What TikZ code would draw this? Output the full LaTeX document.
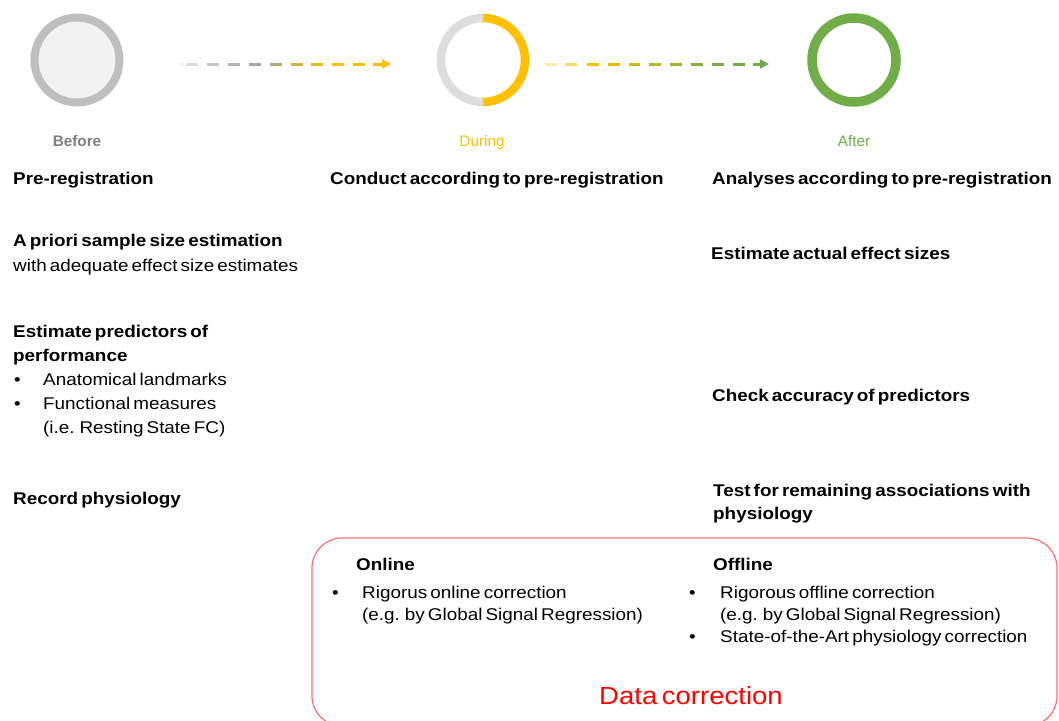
\documentclass[tikz,border=0pt]{standalone}
\usepackage{fontspec}
\setmainfont{Liberation Sans}[FakeStretch=1.11,WordSpace=0.6]
\newfontfamily\plainfont{Liberation Sans}
\usetikzlibrary{arrows.meta}
\definecolor{ringgray}{HTML}{BFBFBF}
\definecolor{fillgray}{HTML}{F2F2F2}
\definecolor{halfgray}{HTML}{DDDDDD}
\definecolor{gold}{HTML}{FFC000}
\definecolor{grn}{HTML}{70AD47}
\definecolor{lbl}{HTML}{7F7F7F}
\definecolor{boxred}{HTML}{FF7070}
\begin{document}
\begin{tikzpicture}[x=1pt,y=-1pt,
  txt/.style={anchor=base west,inner sep=0pt,font=\fontsize{17}{20}\selectfont},
  hd/.style={anchor=base west,inner sep=0pt,font=\fontsize{17}{20}\selectfont\bfseries},
  phase/.style={anchor=base,inner sep=0pt,font=\plainfont\fontsize{15.3}{17}\selectfont},
  dsh/.style={line width=3pt}]
\useasboundingbox (0,0) rectangle (1059,720);
\fill[white] (0,0) rectangle (1059,720);
% circles
\node[circle,draw=ringgray,line width=8pt,fill=fillgray,minimum size=85pt,inner sep=0pt] (before) at (77,60) {};
\node[circle,minimum size=92pt,inner sep=0pt] (during) at (483,60) {};
\draw[halfgray,line width=8.5pt] (483,102) arc[start angle=90,end angle=270,radius=42];
\draw[gold,line width=8.5pt] (483,18) arc[start angle=-90,end angle=90,radius=42];
\node[circle,draw=grn,line width=9.5pt,fill=white,minimum size=84pt,inner sep=0pt] (after) at (854,60) {};
% labels
\node[phase,text=lbl,font=\plainfont\fontsize{15.3}{17}\selectfont\bfseries] (lb) at (77,146.5) {Before};
\node[phase,text=gold] (ld) at (482,146.5) {During};
\node[phase,text=grn] (la) at (854,146.5) {After};
% arrow 1
\foreach \s/\e/\c in {180/184/F0F0F0,186/198/DDDDDD,207/219/C8C8C8,228/240/B4B4B4,249/261/A6A6A6,270/282/B8A870,291/303/D4B440,311/323/ECBC18,332/344/FBBF05,353/365/FFC000}{
  \definecolor{dc}{HTML}{\c}
  \draw[dsh,dc] (\s,64) -- (\e,64);
}
\coordinate (a1s) at (373,64);
\coordinate (a1e) at (391,64);
\draw[dsh,gold,-{Triangle[length=9pt,width=9pt]}] (a1s) -- (a1e);
% arrow 2
\foreach \s/\e/\c in {545/557/FFEBB0,565/577/FFD966,587/599/FFC000,608/620/E9BE00,629/640/D2BB10,649/661/B8B825,670/682/9FB532,691/703/88B03C,712/724/76AE45,733/745/70AD47}{
  \definecolor{dc}{HTML}{\c}
  \draw[dsh,dc] (\s,64) -- (\e,64);
}
\coordinate (a2s) at (753,64);
\coordinate (a2e) at (769,64);
\draw[dsh,grn,-{Triangle[length=9pt,width=9pt]}] (a2s) -- (a2e);
% column 1
\node[hd] (t1) at (13,184) {Pre-registration};
\node[hd] (t2) at (13,246.5) {A priori sample size estimation};
\node[txt] (t3) at (13,271.5) {with adequate effect size estimates};
\node[hd] (t4) at (13,337.5) {Estimate predictors of};
\node[hd] (t5) at (13,361.5) {performance};
\node[txt] (b1) at (14,385.5) {\textbullet};
\node[txt] (t6) at (43,385.5) {Anatomical landmarks};
\node[txt] (b2) at (14,409.5) {\textbullet};
\node[txt] (t7) at (43,409.5) {Functional measures};
\node[txt] (t8) at (43,433.5) {(i.e. Resting State FC)};
\node[hd] (t9) at (13,504.5) {Record physiology};
% column 2
\node[hd] (c1) at (330,184) {Conduct according to pre-registration};
% column 3
\node[hd] (r1) at (712,184) {Analyses according to pre-registration};
\node[hd] (r2) at (711,259.5) {Estimate actual effect sizes};
\node[hd] (r3) at (712,401.5) {Check accuracy of predictors};
\node[hd] (r4) at (713,496.5) {Test for remaining associations with};
\node[hd] (r5) at (713,519.5) {physiology};
% data correction box
\draw[boxred,line width=1.2pt,rounded corners=30pt] (312,538) rectangle (1057,726);
\node[hd] (on) at (356,570.5) {Online};
\node[txt] (ob) at (332,598.5) {\textbullet};
\node[txt] (o1) at (362,598.5) {Rigorus online correction};
\node[txt] (o2) at (362,620.5) {(e.g. by Global Signal Regression)};
\node[hd] (of) at (713,570.5) {Offline};
\node[txt] (fb1) at (689,598.5) {\textbullet};
\node[txt] (f1) at (720,598.5) {Rigorous offline correction};
\node[txt] (f2) at (720,620.5) {(e.g. by Global Signal Regression)};
\node[txt] (fb2) at (689,642.5) {\textbullet};
\node[txt] (f3) at (720,642.5) {State-of-the-Art physiology correction};
\node[anchor=base,inner sep=0pt,font=\fontsize{24.8}{30}\selectfont,text=red] (dc) at (691,704.5) {Data correction};
\end{tikzpicture}
\end{document}
